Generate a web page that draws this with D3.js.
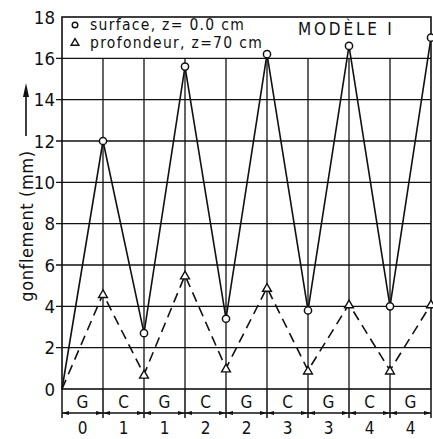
<!DOCTYPE html>
<html>
<head>
<meta charset="utf-8">
<script src="https://cdn.jsdelivr.net/npm/d3@7"></script>
<style>
  body { margin: 0; background: #fff; }
  text { font-family: "DejaVu Sans Condensed", "DejaVu Sans", sans-serif; fill: #111; }
</style>
</head>
<body>
<div id="chart"></div>
<script>
// positions along the test (boundaries between G / C phases)
var steps = [0, 1, 2, 3, 4, 5, 6, 7, 8, 9];
// surface, z = 0.0 cm
var surface = [0, 12.0, 2.7, 15.6, 3.4, 16.2, 3.8, 16.6, 4.0, 17.0];
// profondeur, z = 70 cm
var profondeur = [0, 4.6, 0.7, 5.5, 1.0, 4.9, 0.9, 4.1, 0.9, 4.1];
// phases below the axis
var phases = ["G", "C", "G", "C", "G", "C", "G", "C", "G"];
var cycles = ["0", "1", "1", "2", "2", "3", "3", "4", "4"];
var yTicks = [0, 2, 4, 6, 8, 10, 12, 14, 16, 18];

function draw() {
  var width = 433, height = 439;
  var left = 62, right = 431, plotTop = 17, bottom = 389;
  var ink = "#111";

  var svg = d3.select("#chart").append("svg")
    .attr("width", width).attr("height", height);

  var x = d3.scaleLinear().domain([0, 9]).range([left, right]);
  var y = d3.scaleLinear().domain([0, 18]).range([bottom, plotTop]);

  // grille horizontale
  svg.append("g").selectAll("line")
    .data(yTicks.filter(function (d) { return d > 0 && d < 18; }))
    .enter().append("line")
    .attr("x1", left - 6).attr("x2", right)
    .attr("y1", function (d) { return y(d); }).attr("y2", function (d) { return y(d); })
    .attr("stroke", ink).attr("stroke-width", 1.3);

  // grille verticale (s'arrête sous la légende)
  svg.append("g").selectAll("line")
    .data(steps.slice(1, 9))
    .enter().append("line")
    .attr("x1", function (d) { return x(d); }).attr("x2", function (d) { return x(d); })
    .attr("y1", y(16)).attr("y2", y(0))
    .attr("stroke", ink).attr("stroke-width", 1.3);

  // cadre
  svg.append("rect")
    .attr("x", left).attr("y", plotTop)
    .attr("width", right - left).attr("height", bottom - plotTop)
    .attr("fill", "none").attr("stroke", ink).attr("stroke-width", 1.6);

  // axe y : étiquettes
  svg.append("g").selectAll("text")
    .data(yTicks).enter().append("text")
    .attr("x", left - 7)
    .attr("y", function (d) { return y(d); })
    .attr("dy", "0.36em")
    .attr("text-anchor", "end")
    .style("font-size", "18.5px")
    .text(function (d) { return d; });

  // titre axe y avec flèche
  svg.append("text")
    .attr("transform", "translate(33,226)rotate(-90)")
    .attr("text-anchor", "middle")
    .style("font-size", "18px")
    .style("letter-spacing", "0.6px")
    .text("gonflement (mm)");
  svg.append("line")
    .attr("x1", 26).attr("x2", 26).attr("y1", 136).attr("y2", 92)
    .attr("stroke", ink).attr("stroke-width", 1.6);
  svg.append("path")
    .attr("d", "M26,83 L23,97 L29,97 Z")
    .attr("fill", ink);

  // courbes
  var line = d3.line()
    .x(function (d, i) { return x(steps[i]); })
    .y(function (d) { return y(d); });

  svg.append("path").datum(profondeur)
    .attr("d", line).attr("fill", "none")
    .attr("stroke", ink).attr("stroke-width", 1.6)
    .attr("stroke-dasharray", "10,6");

  svg.append("path").datum(surface)
    .attr("d", line).attr("fill", "none")
    .attr("stroke", ink).attr("stroke-width", 1.6);

  // marqueurs
  var sym = d3.symbol().type(d3.symbolTriangle).size(34);
  svg.append("g").selectAll("path")
    .data(profondeur.slice(1)).enter().append("path")
    .attr("d", sym)
    .attr("transform", function (d, i) { return "translate(" + x(steps[i + 1]) + "," + (y(d) + 1) + ")"; })
    .attr("fill", "#fff").attr("stroke", ink).attr("stroke-width", 1.4);

  svg.append("g").selectAll("circle")
    .data(surface.slice(1)).enter().append("circle")
    .attr("cx", function (d, i) { return x(steps[i + 1]); })
    .attr("cy", function (d) { return y(d); })
    .attr("r", 3.6)
    .attr("fill", "#fff").attr("stroke", ink).attr("stroke-width", 1.5);

  // légende
  svg.append("circle").attr("cx", 75).attr("cy", 25).attr("r", 2.8)
    .attr("fill", "#fff").attr("stroke", ink).attr("stroke-width", 1.4);
  svg.append("path").attr("d", d3.symbol().type(d3.symbolTriangle).size(26))
    .attr("transform", "translate(75,43)")
    .attr("fill", "#fff").attr("stroke", ink).attr("stroke-width", 1.4);
  svg.append("text").attr("x", 90).attr("y", 30)
    .style("font-size", "15.5px").style("letter-spacing", "1.3px")
    .text("surface, z= 0.0 cm");
  svg.append("text").attr("x", 90).attr("y", 48)
    .style("font-size", "15.5px").style("letter-spacing", "1.3px")
    .text("profondeur, z=70 cm");
  svg.append("text").attr("x", 298).attr("y", 35)
    .style("font-size", "17px").style("letter-spacing", "2.8px")
    .text("MODÈLE I");

  // rangée des phases G / C
  var rowBottom = 413;
  svg.append("g").selectAll("line")
    .data(steps).enter().append("line")
    .attr("x1", function (d) { return x(d); }).attr("x2", function (d) { return x(d); })
    .attr("y1", bottom).attr("y2", rowBottom + 5)
    .attr("stroke", ink).attr("stroke-width", 1.5);

  svg.append("g").selectAll("text")
    .data(phases).enter().append("text")
    .attr("x", function (d, i) { return (x(i) + x(i + 1)) / 2; })
    .attr("y", 402).attr("dy", "0.36em")
    .attr("text-anchor", "middle")
    .style("font-size", "17px")
    .text(function (d) { return d; });

  // lignes de cote
  svg.append("line")
    .attr("x1", left).attr("x2", right).attr("y1", rowBottom).attr("y2", rowBottom)
    .attr("stroke", ink).attr("stroke-width", 1.3);
  var arrows = svg.append("g");
  phases.forEach(function (p, i) {
    var a = x(i), b = x(i + 1);
    arrows.append("path")
      .attr("d", "M" + a + "," + rowBottom + " l7,-2 l0,4 Z").attr("fill", ink);
    arrows.append("path")
      .attr("d", "M" + b + "," + rowBottom + " l-7,-2 l0,4 Z").attr("fill", ink);
  });

  svg.append("g").selectAll("text")
    .data(cycles).enter().append("text")
    .attr("x", function (d, i) { return (x(i) + x(i + 1)) / 2; })
    .attr("y", 428).attr("dy", "0.36em")
    .attr("text-anchor", "middle")
    .style("font-size", "17px")
    .text(function (d) { return d; });
}

draw();
</script>
</body>
</html>
